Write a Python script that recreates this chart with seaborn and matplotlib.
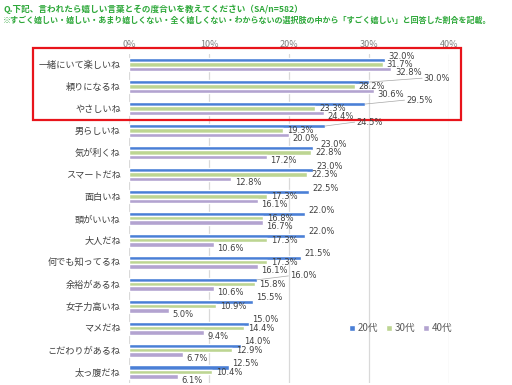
import pandas as pd
import matplotlib.pyplot as plt
import seaborn as sns
from matplotlib.patches import Rectangle

# データ
categories = ["一緒にいて楽しいね", "頼りになるね", "やさしいね", "男らしいね", "気が利くね",
              "スマートだね", "面白いね", "頭がいいね", "大人だね", "何でも知ってるね",
              "余裕があるね", "女子力高いね", "マメだね", "こだわりがあるね", "太っ腹だね"]
age_groups = ["20代", "30代", "40代"]
v20 = [32.0, 30.0, 29.5, 24.5, 23.0, 23.0, 22.5, 22.0, 22.0, 21.5, 16.0, 15.5, 15.0, 14.0, 12.5]
v30 = [31.7, 28.2, 23.3, 19.3, 22.8, 22.3, 17.3, 16.8, 17.3, 17.3, 15.8, 10.9, 14.4, 12.9, 10.4]
v40 = [32.8, 30.6, 24.4, 20.0, 17.2, 12.8, 16.1, 16.7, 10.6, 16.1, 10.6, 5.0, 9.4, 6.7, 6.1]
highlight = categories[:3]

title1 = "Q.下記、言われたら嬉しい言葉とその度合いを教えてください（SA/n=582）"
title2 = "※すごく嬉しい・嬉しい・あまり嬉しくない・全く嬉しくない・わからないの選択肢の中から「すごく嬉しい」と回答した割合を記載。"

df = pd.DataFrame({"cat": categories * 3,
                   "age": sum([[a] * len(categories) for a in age_groups], []),
                   "val": v20 + v30 + v40})

sns.set_style("white")
plt.rcParams['font.family'] = ['Noto Sans CJK JP', 'DejaVu Sans']

colors = ["#4A7FD6", "#BDD592", "#B3A3D0"]

fig = plt.figure(figsize=(5.12, 3.85), dpi=100)
ax = fig.add_axes([0.252, 0.005, 0.625, 0.856])
sns.barplot(data=df, y="cat", x="val", hue="age", orient="h", palette=colors,
            width=0.6, order=categories, hue_order=age_groups, ax=ax, saturation=1)

ax.set_xlim(0, 40)
ax.set_ylim(len(categories) - 0.5, -0.5)
ax.set_xticks([0, 10, 20, 30, 40])
ax.set_xticklabels(["0%", "10%", "20%", "30%", "40%"])
ax.xaxis.tick_top()
ax.tick_params(axis="x", length=0, pad=3, labelsize=6.5, labelcolor="#7f7f7f")
ax.tick_params(axis="y", length=0, pad=6, labelsize=6.6, labelcolor="#404040")
ax.set_xlabel("")
ax.set_ylabel("")
ax.grid(axis="x", color="#d9d9d9", linewidth=0.9)
ax.set_axisbelow(True)
for s in ax.spines.values():
    s.set_visible(False)

# データラベル（重なったら右へずらす）
dys = [2.8, 0, -2.8]
labels = []
for k, (cont, dy) in enumerate(zip(ax.containers, dys)):
    for i, p in enumerate(cont):
        w = p.get_width()
        t = ax.annotate(f"{w:.1f}%", (w, p.get_y() + p.get_height() / 2),
                        xytext=(2.5, dy), textcoords="offset points",
                        va="center", ha="left", fontsize=6.0, color="#404040",
                        family=["DejaVu Sans"])
        labels.append((i, k, t))
labels.sort(key=lambda x: (x[0], x[1]))

fig.canvas.draw()
r = fig.canvas.get_renderer()
pt = fig.dpi / 72
placed = []
for _, _, t in labels:
    for _ in range(10):
        bb = t.get_window_extent(r)
        hit = None
        for q in placed:
            if bb.x0 < q.x1 and bb.x1 > q.x0 and bb.y0 < q.y1 - 1.0 and bb.y1 > q.y0 + 1.0:
                hit = q
                break
        if hit is None:
            break
        ox, oy = t.xyann
        t.xyann = (ox + (hit.x1 - bb.x0 + 2) / pt, oy)
    ox, oy = t.xyann
    if ox > 6:
        # 引き出し線
        x0, y0 = t.xy
        ax.annotate("", (x0, y0), xytext=(ox - 1, oy), textcoords="offset points",
                    arrowprops=dict(arrowstyle="-", color="#a6a6a6", lw=0.5,
                                    shrinkA=0, shrinkB=0))
    placed.append(t.get_window_extent(r))

# 赤枠
n = len(highlight)
rect = Rectangle((-12, -0.77), 53.5, n - 1 + 0.52 + 0.77, fill=False,
                 edgecolor="#E8141B", linewidth=1.6, clip_on=False)
ax.add_patch(rect)

ax.legend(ncol=3, loc="center left", bbox_to_anchor=(0.66, 0.167), frameon=False,
          fontsize=7, handlelength=0.6, handleheight=0.6, handletextpad=0.3,
          columnspacing=0.8, labelcolor="#595959")

fig.text(0.006, 0.977, title1, fontsize=6.2, color="#2EA83A", fontweight="bold", va="center")
fig.text(0.006, 0.947, title2, fontsize=5.8, color="#2EA83A", fontweight="bold", va="center")

plt.savefig("out.png", dpi=100)
